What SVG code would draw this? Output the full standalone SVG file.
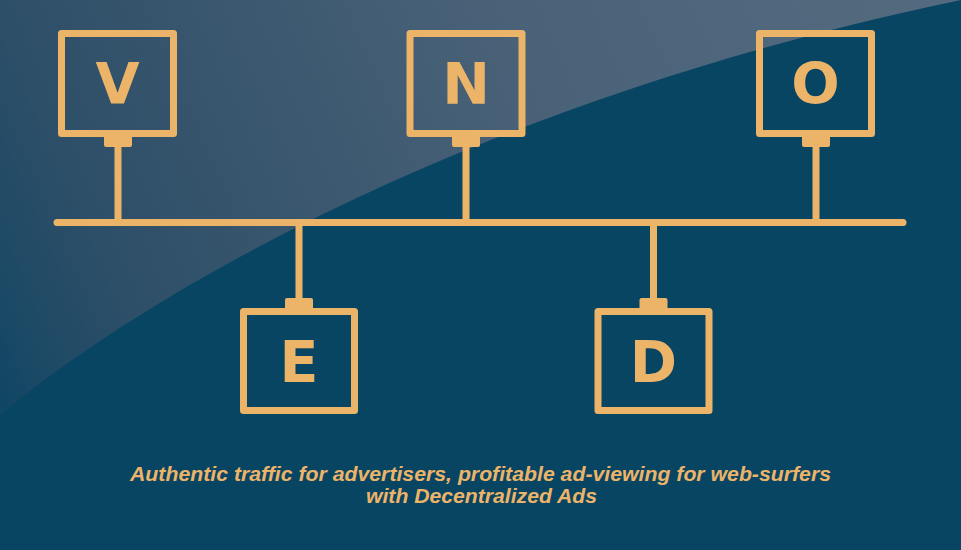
<svg xmlns="http://www.w3.org/2000/svg" width="961" height="550" viewBox="0 0 961 550">
<defs>
<linearGradient id="glow" gradientUnits="userSpaceOnUse" x1="0" y1="420" x2="961" y2="0">
<stop offset="0" stop-color="#0E4664"/>
<stop offset="0.07" stop-color="#1F4A66"/>
<stop offset="0.16" stop-color="#2E4F68"/>
<stop offset="0.6" stop-color="#4A6278"/>
<stop offset="1" stop-color="#546B7F"/>
</linearGradient>
<style>
.box{fill:none;stroke:#ECB469;stroke-width:7;stroke-linejoin:round}
.tab{fill:#ECB469}
.wire{stroke:#ECB469;stroke-width:7;fill:none}
.bus{stroke:#ECB469;stroke-width:7;stroke-linecap:round}
.lbl{font-family:"DejaVu Sans",sans-serif;font-weight:bold;font-size:57px;fill:#ECB469;text-anchor:middle}
.cap{font-family:"Liberation Sans",Arial,sans-serif;font-weight:bold;font-style:italic;font-size:20px;fill:#ECB469;text-anchor:middle}
</style>
</defs>
<rect width="961" height="550" fill="#084563"/>
<path d="M0,415 C150,290 480,100 961,0 L0,0 Z" fill="url(#glow)"/>
<g id="connectors">
<line class="bus" x1="57" y1="222.5" x2="903" y2="222.5"/>
<line class="wire" x1="118" y1="145" x2="118" y2="222"/>
<line class="wire" x1="466" y1="145" x2="466" y2="222"/>
<line class="wire" x1="816" y1="145" x2="816" y2="222"/>
<line class="wire" x1="299" y1="223" x2="299" y2="300"/>
<line class="wire" x1="653.5" y1="223" x2="653.5" y2="300"/>
</g>
<g id="node-V">
<rect class="box" x="61.5" y="33.5" width="112" height="100"/>
<rect class="tab" x="104" y="135" width="28" height="12" rx="2"/>
<text class="lbl" x="117.5" y="104">V</text>
</g>
<g id="node-N">
<rect class="box" x="410" y="33.5" width="112" height="100"/>
<rect class="tab" x="452" y="135" width="28" height="12" rx="2"/>
<text class="lbl" x="466" y="104">N</text>
</g>
<g id="node-O">
<rect class="box" x="759.5" y="33.5" width="112" height="100"/>
<rect class="tab" x="802" y="135" width="28" height="12" rx="2"/>
<text class="lbl" x="815.5" y="104">O</text>
</g>
<g id="node-E">
<rect class="box" x="243.5" y="311.5" width="111" height="99"/>
<rect class="tab" x="285" y="298" width="28" height="12" rx="2"/>
<text class="lbl" x="299" y="382">E</text>
</g>
<g id="node-D">
<rect class="box" x="598" y="311.5" width="111" height="99"/>
<rect class="tab" x="639.5" y="298" width="28" height="12" rx="2"/>
<text class="lbl" x="653.5" y="382">D</text>
</g>
<g id="caption">
<text class="cap" x="480.5" y="481" textLength="701" lengthAdjust="spacingAndGlyphs">Authentic traffic for advertisers, profitable ad-viewing for web-surfers</text>
<text class="cap" x="481.5" y="503" textLength="231" lengthAdjust="spacingAndGlyphs">with Decentralized Ads</text>
</g>
</svg>
